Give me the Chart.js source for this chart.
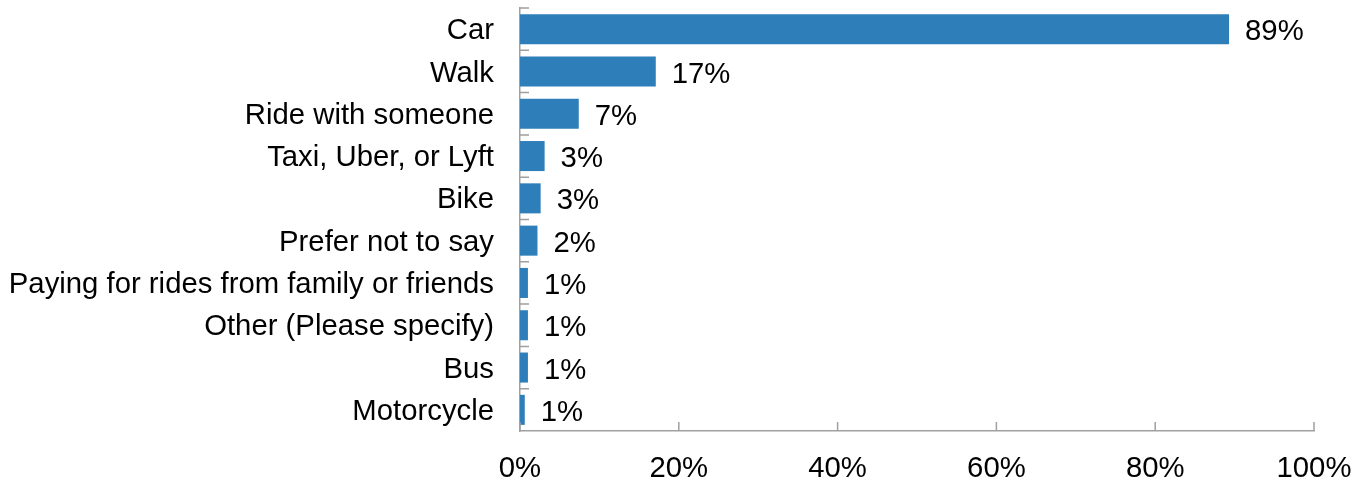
<!DOCTYPE html>
<html>
<head>
<meta charset="utf-8">
<script src="https://cdn.jsdelivr.net/npm/chart.js@4.4.1/dist/chart.umd.min.js"></script>
<style>
    html, body { margin: 0; padding: 0; background: #fff; }
    #wrap { width: 1365px; height: 485px; }
</style>
</head>
<body>
<div id="wrap"><canvas id="chart"></canvas></div>
<script>
// travel mode shares (percent of respondents)
const modes = ['Car', 'Walk', 'Ride with someone', 'Taxi, Uber, or Lyft', 'Bike',
    'Prefer not to say', 'Paying for rides from family or friends',
    'Other (Please specify)', 'Bus', 'Motorcycle'];
const shares = [89.3, 17.1, 7.4, 3.1, 2.6, 2.2, 1.0, 1.0, 1.0, 0.6];
const xTicks = [0, 20, 40, 60, 80, 100];

const colors = {
    bar: '#2E7EB9',
    axis: '#A0A0A0',
    text: '#000000'
};
const fontFamily = '"Liberation Sans", Arial, sans-serif';
const fontSize = 29.3;

// value labels to the right of each bar + inward tick marks
const barLabels = {
    id: 'barLabels',
    afterDatasetsDraw(chart) {
        const ctx = chart.ctx;
        const meta = chart.getDatasetMeta(0);
        ctx.save();
        ctx.font = fontSize + 'px ' + fontFamily;
        ctx.fillStyle = colors.text;
        ctx.textAlign = 'left';
        ctx.textBaseline = 'middle';
        meta.data.forEach((bar, i) => {
            ctx.fillText(Math.round(shares[i]) + '%', bar.x + 16, bar.y + 3);
        });
        ctx.restore();
    },
    afterDraw(chart) {
        const ctx = chart.ctx;
        const area = chart.chartArea;
        const x = chart.scales.x;
        ctx.save();
        ctx.strokeStyle = colors.axis;
        ctx.lineWidth = 1.5;
        ctx.beginPath();
        const step = (area.bottom - area.top) / modes.length;
        for (let i = 0; i < modes.length; i++) {
            const y = area.top + i * step;
            ctx.moveTo(area.left, y);
            ctx.lineTo(area.left + 9, y);
        }
        xTicks.forEach(v => {
            const px = x.getPixelForValue(v);
            ctx.moveTo(px, area.bottom);
            ctx.lineTo(px, area.bottom - 9);
        });
        ctx.stroke();
        ctx.restore();
    }
};

new Chart(document.getElementById('chart'), {
    type: 'bar',
    data: {
        labels: modes,
        datasets: [{
            data: shares,
            backgroundColor: colors.bar,
            categoryPercentage: 1,
            barPercentage: 0.71
        }]
    },
    options: {
        indexAxis: 'y',
        responsive: true,
        maintainAspectRatio: false,
        animation: false,
        layout: { padding: { top: 8, right: 51, left: 0, bottom: 0 } },
        plugins: {
            legend: { display: false },
            tooltip: { enabled: false }
        },
        scales: {
            x: {
                min: 0,
                max: 100,
                afterBuildTicks: s => { s.ticks = xTicks.map(v => ({ value: v })); },
                afterFit: s => {
                    s.height = 54;
                    s.paddingLeft = 0;
                    s.paddingRight = 0;
                },
                grid: { display: false, drawTicks: false },
                border: { color: colors.axis, width: 1.5 },
                ticks: {
                    padding: 20,
                    color: colors.text,
                    font: { family: fontFamily, size: fontSize },
                    maxRotation: 0,
                    callback: v => v + '%'
                }
            },
            y: {
                afterFit: s => {
                    s.width = 520;
                    s.paddingTop = 0;
                    s.paddingBottom = 0;
                },
                grid: { display: false, drawTicks: false },
                border: { color: colors.axis, width: 1.5 },
                ticks: {
                    padding: 26,
                    labelOffset: 2,
                    color: colors.text,
                    font: { family: fontFamily, size: fontSize },
                    autoSkip: false
                }
            }
        }
    },
    plugins: [barLabels]
});
</script>
</body>
</html>
